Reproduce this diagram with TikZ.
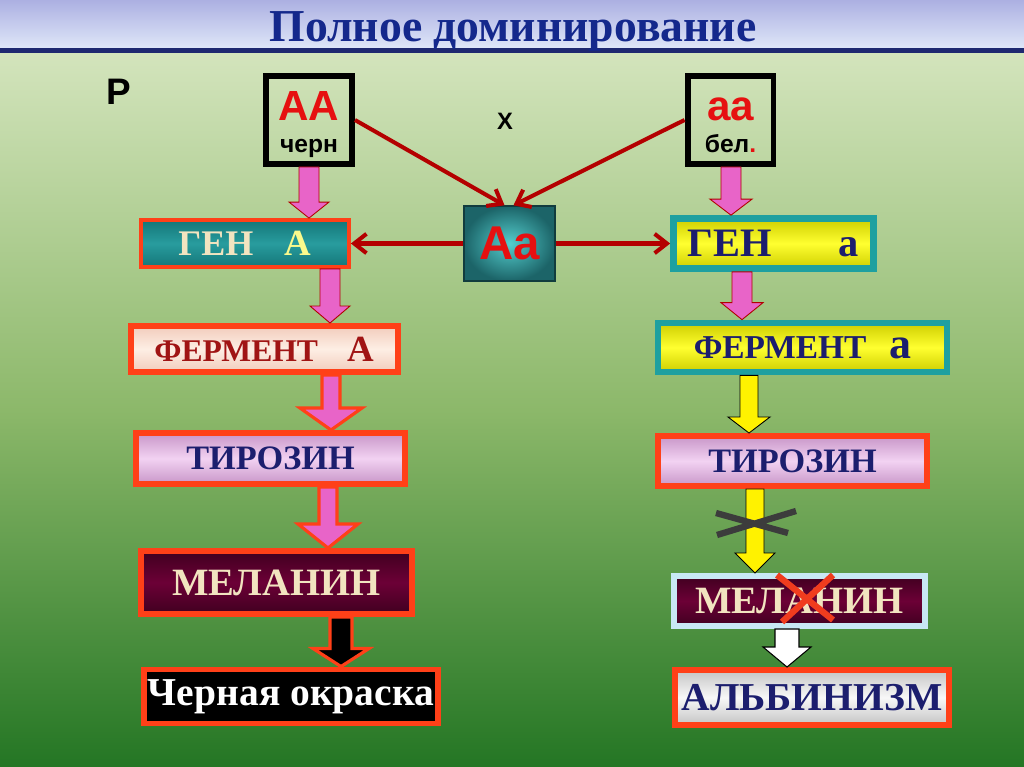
\documentclass[tikz,border=0pt]{standalone}
\usepackage{fontspec}
\setmainfont{Liberation Serif}
\setsansfont{Liberation Sans}
\usetikzlibrary{calc,arrows.meta}

\definecolor{titleblue}{RGB}{20,40,140}
\definecolor{bandtop}{RGB}{172,176,226}
\definecolor{bandbot}{RGB}{222,230,248}
\definecolor{bandline}{RGB}{30,40,112}
\definecolor{greentop}{RGB}{211,228,188}
\definecolor{greenmid}{RGB}{140,184,106}
\definecolor{greenbot}{RGB}{36,118,36}
\definecolor{linered}{RGB}{180,0,0}
\definecolor{boxred}{RGB}{255,64,24}
\definecolor{tealdark}{RGB}{20,118,120}
\definecolor{teallight}{RGB}{40,156,158}
\definecolor{tealrim}{RGB}{30,160,160}
\definecolor{yelldark}{RGB}{206,206,0}
\definecolor{yelllight}{RGB}{255,255,48}
\definecolor{peach}{RGB}{253,238,228}
\definecolor{peachdark}{RGB}{242,204,188}
\definecolor{lilac}{RGB}{242,210,242}
\definecolor{lilacdark}{RGB}{200,150,200}
\definecolor{maroon}{RGB}{108,0,54}
\definecolor{maroondark}{RGB}{64,0,32}
\definecolor{cream}{RGB}{242,228,192}
\definecolor{paleyellow}{RGB}{250,250,140}
\definecolor{navytext}{RGB}{28,30,110}
\definecolor{redtext}{RGB}{160,20,20}
\definecolor{pinkarrow}{RGB}{232,100,200}
\definecolor{paleblue}{RGB}{200,232,244}
\definecolor{graylight}{RGB}{248,248,248}
\definecolor{graydark}{RGB}{196,196,196}
\definecolor{crossgray}{RGB}{60,60,60}
\definecolor{crossred}{RGB}{240,60,30}
\definecolor{genered}{RGB}{230,16,16}
\definecolor{hybdark}{RGB}{28,100,104}
\definecolor{hyblight}{RGB}{84,206,206}

% block arrow: style, x coordinate, from node, to node, shaft, head, head length
\newcommand{\blockarrow}[7]{%
  \filldraw[#1] ($(#2 |- #3.south)+(-#5,0)$) -- ($(#2 |- #4.north)+(-#5,-#7)$)
    -- ($(#2 |- #4.north)+(-#6,-#7)$) -- (#2 |- #4.north)
    -- ($(#2 |- #4.north)+(#6,-#7)$) -- ($(#2 |- #4.north)+(#5,-#7)$)
    -- ($(#2 |- #3.south)+(#5,0)$) -- cycle;%
}

\begin{document}
\begin{tikzpicture}[x=0.02cm, y=-0.02cm,
  parent/.style={draw=black, line width=3.4pt, minimum width=1.72cm, minimum height=1.76cm, inner sep=0pt},
  hybrid/.style={draw=hybdark!60!black, line width=0.8pt, inner color=hyblight, outer color=hybdark,
    minimum width=1.82cm, minimum height=1.5cm, inner sep=0pt, text=genered, font=\sffamily\bfseries},
  tealfill/.style={draw=boxred, line width=2.2pt, top color=tealdark, bottom color=tealdark, middle color=teallight,
    inner sep=0pt, font=\bfseries},
  yellfill/.style={draw=tealrim, line width=3.8pt, top color=yelldark, bottom color=yelldark, middle color=yelllight,
    inner sep=0pt, text=navytext, font=\bfseries},
  peachfill/.style={draw=boxred, line width=3.4pt, top color=peachdark, bottom color=peachdark, middle color=peach,
    inner sep=0pt, text=redtext, font=\bfseries},
  lilacfill/.style={draw=boxred, line width=3.4pt, top color=lilacdark, bottom color=lilacdark, middle color=lilac,
    inner sep=0pt, text=navytext, font=\bfseries},
  maroonfill/.style={draw=boxred, line width=3.4pt, top color=maroondark, bottom color=maroondark, middle color=maroon,
    inner sep=0pt, text=cream, font=\bfseries},
  redline/.style={draw=linered, line width=2.3pt, -{Straight Barb[length=7pt,width=11pt]}},
  pinkarr/.style={fill=pinkarrow, draw=red!70!black, line width=0.5pt},
  pinkthick/.style={fill=pinkarrow, draw=boxred, line width=1.8pt},
  yellarr/.style={fill=yellow, draw=black, line width=0.5pt},
  blackarr/.style={fill=black, draw=boxred, line width=1.8pt},
  whitearr/.style={fill=white, draw=black, line width=0.6pt}]

% background
\useasboundingbox (0,0) rectangle (1024,767);
\shade[top color=bandtop, bottom color=bandbot] (0,0) rectangle (1024,48);
\shade[top color=greentop, bottom color=greenbot, middle color=greenmid] (0,53) rectangle (1024,767);
\fill[bandline] (0,48) rectangle (1024,53);

% title
\node[anchor=base, text=titleblue, font=\bfseries\fontsize{26}{30}\selectfont] (title) at (513,42) {Полное доминирование};

% parents
\node[anchor=base, font=\sffamily\bfseries\fontsize{21}{24}\selectfont] (plabel) at (119,105) {Р};
\node[parent] (parAA) at (309,120) {};
\node[parent] (paraa) at (730.5,120) {};
\node[anchor=base, text=genered, font=\sffamily\bfseries\fontsize{24}{28}\selectfont] (tAA) at ($(parAA.center)+(0,0)$) {AA};
\node[anchor=base, font=\sffamily\bfseries\fontsize{14}{16}\selectfont] (cAA) at ($(parAA.center)+(0,33)$) {черн};
\node[anchor=base, text=genered, font=\sffamily\bfseries\fontsize{24}{28}\selectfont] (taa) at ($(paraa.center)+(0,0)$) {aa};
\node[anchor=base, font=\sffamily\bfseries\fontsize{14}{16}\selectfont] (caa) at ($(paraa.center)+(0,33)$) {бел\textcolor{genered}{.}};
\node[anchor=base, font=\sffamily\bfseries\fontsize{13.5}{16}\selectfont] (crosssign) at (505,130) {Х};

% hybrid
\node[hybrid] (hyb) at (509.5,243.5) {\fontsize{27}{30}\selectfont Aa};

% left column
\node[tealfill, minimum width=4.16cm, minimum height=0.94cm] (genA) at (245,243.5)
  {\fontsize{20.5}{24}\selectfont\textcolor{cream}{ГЕН}\hspace{18pt}\textcolor{paleyellow}{\fontsize{21}{24}\selectfont A}};
\node[peachfill, minimum width=5.34cm, minimum height=0.92cm] (fermA) at (264.5,349)
  {\fontsize{18}{22}\selectfont ФЕРМЕНТ\hspace{17pt}{\fontsize{21}{24}\selectfont A}};
\node[lilacfill, minimum width=5.38cm, minimum height=1.02cm] (tyrA) at (270.5,458.5)
  {\fontsize{19.5}{22}\selectfont ТИРОЗИН};
\node[maroonfill, minimum width=5.42cm, minimum height=1.26cm] (melA) at (276.5,582.5)
  {\fontsize{22}{26}\selectfont МЕЛАНИН};
\node[draw=boxred, line width=3.4pt, fill=black, text=white, font=\bfseries, inner sep=0pt,
  minimum width=5.88cm, minimum height=1.08cm] (blackA) at (291,696.5)
  {\fontsize{22.5}{26}\selectfont Черная окраска};

% right column
\node[yellfill, minimum width=4.0cm, minimum height=1.0cm] (genB) at (773.5,243.5)
  {\fontsize{23}{26}\selectfont ГЕН\hspace{38pt}a};
\node[yellfill, minimum width=5.78cm, minimum height=0.98cm] (fermB) at (802.5,347.5)
  {\fontsize{19}{22}\selectfont ФЕРМЕНТ\hspace{13pt}{\fontsize{25}{28}\selectfont a}};
\node[lilacfill, minimum width=5.38cm, minimum height=1.0cm] (tyrB) at (792.5,461)
  {\fontsize{19.5}{22}\selectfont ТИРОЗИН};
\node[maroonfill, draw=paleblue, minimum width=5.02cm, minimum height=1.0cm] (melB) at (799.5,601)
  {\fontsize{22}{26}\selectfont МЕЛАНИН};
\node[draw=boxred, line width=3.4pt, top color=graydark, bottom color=graydark, middle color=graylight,
  text=navytext, font=\bfseries, inner sep=0pt, minimum width=5.48cm, minimum height=1.1cm] (alb) at (812,697.5)
  {\fontsize{22.5}{26}\selectfont АЛЬБИНИЗМ};

% crossing lines
\draw[redline] (parAA.east) -- ($(hyb.north)+(-5,0)$);
\draw[redline] (paraa.west) -- ($(hyb.north)+(4,0)$);
\draw[redline] (hyb.west) -- (genA.east);
\draw[redline] (hyb.east) -- (genB.west);

% block arrows
\coordinate (c1) at (309,0);
\coordinate (c2) at (731,0);
\coordinate (c3) at (330,0);
\coordinate (c4) at (742,0);
\coordinate (c5) at (331,0);
\coordinate (c6) at (749,0);
\coordinate (c7) at (328,0);
\coordinate (c8) at (755,0);
\coordinate (c9) at (341,0);
\coordinate (c10) at (787,0);
\blockarrow{pinkarr}{c1}{parAA}{genA}{10}{20}{16}
\blockarrow{pinkarr}{c2}{paraa}{genB}{10}{21}{16}
\blockarrow{pinkarr}{c3}{genA}{fermA}{10}{20}{17}
\blockarrow{pinkarr}{c4}{genB}{fermB}{10}{21}{17}
\blockarrow{pinkthick}{c5}{fermA}{tyrA}{9}{31}{22}
\blockarrow{yellarr}{c6}{fermB}{tyrB}{9}{21}{16}
\blockarrow{pinkthick}{c7}{tyrA}{melA}{9}{30}{24}
\blockarrow{yellarr}{c8}{tyrB}{melB}{9}{20}{20}
\blockarrow{blackarr}{c9}{melA}{blackA}{11}{28}{18}
\blockarrow{whitearr}{c10}{melB}{alb}{12}{24}{20}

% crosses
\draw[crossgray, line width=3.6pt] (716,513) -- (788,533) (717,535) -- (796,511);
\draw[crossred, line width=3.6pt] (777,575) -- (833,620) (833,575) -- (782,622);
\end{tikzpicture}
\end{document}
